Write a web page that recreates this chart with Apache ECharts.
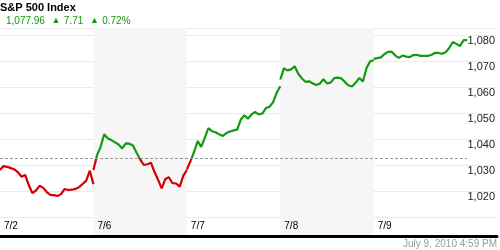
<!DOCTYPE html>
<html>
<head>
<meta charset="utf-8">
<script src="https://cdn.jsdelivr.net/npm/echarts@6/dist/echarts.min.js"></script>
<style>
html, body { margin: 0; padding: 0; background: #fff; }
#chart { width: 500px; height: 250px; }
</style>
</head>
<body>
<div id="chart"></div>
<script>
// S&P 500, one value every 15 minutes (9:30 .. 16:00) for each session
var day0702 = [1028.1, 1029.6, 1029.3, 1028.8, 1028.3, 1027.2, 1025.5, 1026.2, 1022.3, 1019.2, 1020.2, 1022.0, 1021.3, 1019.6,
  1018.5, 1018.4, 1018.1, 1018.8, 1020.8, 1020.4, 1020.5, 1020.8, 1021.5, 1022.7, 1024.0, 1027.8, 1022.6]
var day0706 = [1028.1, 1033.8, 1037.0, 1041.8, 1040.2, 1039.6, 1038.7, 1037.9, 1036.4, 1038.3, 1038.2, 1037.5, 1034.7, 1032.2,
  1030.0, 1030.3, 1030.9, 1027.3, 1024.3, 1021.0, 1024.6, 1025.3, 1023.0, 1022.9, 1021.7, 1025.8, 1028.1]
var day0707 = [1028.3, 1031.5, 1035.0, 1039.2, 1037.0, 1040.5, 1044.2, 1043.0, 1042.6, 1041.8, 1041.2, 1042.3, 1042.9, 1043.3,
  1043.6, 1047.5, 1049.1, 1047.8, 1049.5, 1050.4, 1049.5, 1049.8, 1051.9, 1052.4, 1054.2, 1057.8, 1060.3]
var day0708 = [1062.9, 1067.2, 1066.4, 1066.8, 1068.0, 1065.1, 1063.3, 1062.0, 1062.2, 1061.4, 1060.8, 1061.3, 1063.0, 1061.4,
  1061.7, 1063.4, 1063.6, 1063.3, 1061.9, 1060.6, 1060.2, 1061.7, 1063.5, 1062.1, 1067.3, 1069.9, 1070.3]
var day0709 = [1070.8, 1071.1, 1071.4, 1072.7, 1073.5, 1073.6, 1072.1, 1071.2, 1072.1, 1071.7, 1071.5, 1072.3, 1072.4, 1072.0,
  1072.0, 1072.0, 1072.3, 1073.1, 1073.1, 1072.8, 1073.4, 1075.0, 1077.3, 1076.6, 1075.8, 1078.0, 1078.0]

var dayLabels = ['7/2', '7/6', '7/7', '7/8', '7/9']
var gridValues = [1010, 1020, 1030, 1040, 1050, 1060, 1070, 1080]
var labelValues = [1020, 1030, 1040, 1050, 1060, 1070, 1080]
var refLevel = 1032.6

var lastPrice = '1,077.96'
var change = '7.71'
var pctChange = '0.72%'
var stamp = 'July 9, 2010 4:59 PM'

var green = '#129912'
var red = '#d40000'
var font = '"Liberation Sans", Arial, sans-serif'

var days = [day0702, day0706, day0707, day0708, day0709]
var slots = day0702.length - 1
var points = []
days.forEach(function (vals, d) {
  vals.forEach(function (v, i) {
    points.push([d * slots + i, v])
  })
  // break the line between sessions
  points.push([d * slots + slots, '-'])
})
var lastX = days.length * slots

function commas(v) {
  return String(v).replace(/\B(?=(\d{3})+(?!\d))/g, ',')
}

var chart = echarts.init(document.getElementById('chart'))
chart.setOption({
  animation: false,
  backgroundColor: '#fff',
  grid: { left: 0, right: 0, top: 28, bottom: 14 },
  graphic: [
    {
      type: 'text', left: 0, top: 2,
      style: { text: 'S&P 500 Index', font: 'bold 11px ' + font, fill: '#000' }
    },
    {
      type: 'text', left: 6, top: 15,
      style: {
        text: '{p|' + lastPrice + '}  {a|▲} {p|' + change + '}  {a|▲} {p|' + pctChange + '}',
        rich: {
          p: { font: '10px ' + font, fill: green },
          a: { font: '9px ' + font, fill: green }
        }
      }
    },
    {
      type: 'text', right: 3, top: 239,
      style: { text: stamp, font: '10px ' + font, fill: '#999' }
    }
  ],
  xAxis: {
    type: 'value',
    min: 0,
    max: 138.3,
    interval: slots,
    axisLine: { show: true, lineStyle: { color: '#000', width: 3 } },
    axisTick: { show: false },
    splitLine: { show: false },
    splitArea: {
      show: true,
      areaStyle: { color: ['rgba(0,0,0,0)', '#f6f6f6', 'rgba(0,0,0,0)', '#f6f6f6', 'rgba(0,0,0,0)', 'rgba(0,0,0,0)'] }
    },
    axisLabel: {
      inside: true,
      margin: 5,
      align: 'left',
      padding: [0, 0, 0, 4],
      color: '#000',
      fontSize: 10,
      fontFamily: font,
      formatter: function (v) {
        var k = Math.round(v / slots)
        if (Math.abs(v - k * slots) > 0.01) return ''
        return dayLabels[k] || ''
      }
    }
  },
  yAxis: {
    type: 'value',
    position: 'right',
    min: 1002.7,
    max: 1082.7,
    axisLine: { show: false },
    axisTick: { show: false, customValues: gridValues.concat([1082.7]) },
    splitLine: { show: true, lineStyle: { color: '#ebebeb', width: 1 } },
    axisLabel: {
      inside: true,
      margin: 2,
      verticalAlign: 'top',
      color: '#222',
      fontSize: 11,
      fontFamily: font,
      customValues: labelValues,
      formatter: function (v) { return commas(v) }
    }
  },
  visualMap: {
    show: false,
    type: 'piecewise',
    dimension: 1,
    seriesIndex: 0,
    pieces: [
      { gte: 900, lt: refLevel, color: red },
      { gte: refLevel, lte: 1200, color: green }
    ]
  },
  series: [{
    type: 'line',
    data: points,
    symbol: 'none',
    connectNulls: false,
    lineStyle: { width: 2.2 },
    markLine: {
      silent: true,
      symbol: 'none',
      label: { show: false },
      lineStyle: { color: '#999', type: [3, 2], width: 1 },
      data: [[{ coord: [0, refLevel] }, { coord: [lastX, refLevel] }]]
    }
  }]
})
</script>
</body>
</html>
